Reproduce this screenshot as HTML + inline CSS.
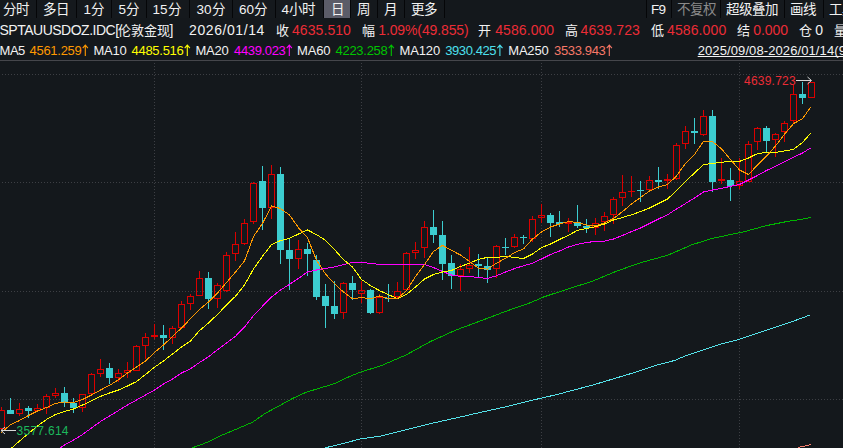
<!DOCTYPE html>
<html lang="zh-CN"><head><meta charset="utf-8"><title>SPTAUUSDOZ.IDC</title>
<style>
html,body{margin:0;padding:0;background:#14181c;}
body{width:843px;height:448px;position:relative;overflow:hidden;font-family:"Liberation Sans",sans-serif;}
#w{position:absolute;left:0;top:0;width:843px;height:448px;overflow:hidden;background:#14181c;}
.x{position:absolute;white-space:nowrap;line-height:1;}
.k,.t{-webkit-text-stroke:0;}
.t{top:2.5px;font-size:13.5px;}
.a{top:23px;font-size:14px;}
.a.k{top:23.5px;font-size:13px;}
.b{top:43.7px;font-size:13px;}
.h{top:75px;font-size:12px;}
.l{top:424.6px;font-size:12px;}
.ar{position:absolute;color:transparent;font-style:normal;letter-spacing:0;}
.u{text-decoration:underline;text-underline-offset:1px;text-decoration-skip-ink:none;text-decoration-thickness:1px;}
.tb{position:absolute;top:0;height:18px;background:#15191d;}
.hl{position:absolute;left:324px;top:0;width:26px;height:18px;background:#5b5c68;}
.dv{position:absolute;top:0;width:1px;height:18px;background:#050608;}
#sep{position:absolute;left:0;top:60px;width:843px;height:1px;background:#45464b;}
svg{position:absolute;left:0;top:0;}
</style></head><body><div id="w">
<div class="tb" style="left:0;width:445px"></div><div class="tb" style="left:646px;width:197px"></div><div class="hl"></div><i class="dv" style="left:36px"></i><i class="dv" style="left:76px"></i><i class="dv" style="left:111px"></i><i class="dv" style="left:146px"></i><i class="dv" style="left:189px"></i><i class="dv" style="left:232px"></i><i class="dv" style="left:275px"></i><i class="dv" style="left:323px"></i><i class="dv" style="left:350px"></i><i class="dv" style="left:377px"></i><i class="dv" style="left:404px"></i><i class="dv" style="left:444px"></i><i class="dv" style="left:646px"></i><i class="dv" style="left:671px"></i><i class="dv" style="left:720px"></i><i class="dv" style="left:784px"></i><i class="dv" style="left:823px"></i>
<div id="sep"></div>
<svg width="843" height="448" viewBox="0 0 843 448" shape-rendering="crispEdges">
<path d="M2 74.5H843" stroke="#3d3f44" stroke-width="1" stroke-dasharray="1 2" fill="none"/>
<path d="M2 182.5H843" stroke="#3d3f44" stroke-width="1" stroke-dasharray="1 2" fill="none"/>
<path d="M2 291.5H843" stroke="#3d3f44" stroke-width="1" stroke-dasharray="1 2" fill="none"/>
<path d="M2 399.5H843" stroke="#3d3f44" stroke-width="1" stroke-dasharray="1 2" fill="none"/>
<path d="M154.5 63V448" stroke="#3d3f44" stroke-width="1" stroke-dasharray="1 2" fill="none"/>
<path d="M361.5 63V448" stroke="#3d3f44" stroke-width="1" stroke-dasharray="1 2" fill="none"/>
<path d="M541.5 63V448" stroke="#3d3f44" stroke-width="1" stroke-dasharray="1 2" fill="none"/>
<path d="M739.5 63V448" stroke="#3d3f44" stroke-width="1" stroke-dasharray="1 2" fill="none"/>
<rect x="1" y="407" width="1" height="3" fill="#dc0000"/>
<rect x="1" y="429" width="1" height="1" fill="#dc0000"/>
<rect x="-1.5" y="410.5" width="6" height="18" fill="none" stroke="#dc0000" stroke-width="1"/>
<rect x="10" y="398" width="1" height="16" fill="#3ccdd0"/>
<rect x="7" y="410" width="7" height="4" fill="#3ccdd0"/>
<rect x="19" y="403" width="1" height="6" fill="#dc0000"/>
<rect x="19" y="414" width="1" height="2" fill="#dc0000"/>
<rect x="16.5" y="409.5" width="6" height="4" fill="none" stroke="#dc0000" stroke-width="1"/>
<rect x="28" y="406" width="1" height="12" fill="#3ccdd0"/>
<rect x="25" y="408" width="7" height="3" fill="#3ccdd0"/>
<rect x="37" y="404" width="1" height="4" fill="#dc0000"/>
<rect x="34.5" y="408.5" width="6" height="2" fill="none" stroke="#dc0000" stroke-width="1"/>
<rect x="46" y="394" width="1" height="2" fill="#dc0000"/>
<rect x="46" y="408" width="1" height="6" fill="#dc0000"/>
<rect x="43.5" y="396.5" width="6" height="11" fill="none" stroke="#dc0000" stroke-width="1"/>
<rect x="55" y="388" width="1" height="5" fill="#dc0000"/>
<rect x="55" y="396" width="1" height="2" fill="#dc0000"/>
<rect x="52.5" y="393.5" width="6" height="2" fill="none" stroke="#dc0000" stroke-width="1"/>
<rect x="64" y="387" width="1" height="20" fill="#3ccdd0"/>
<rect x="61" y="393" width="7" height="9" fill="#3ccdd0"/>
<rect x="73" y="398" width="1" height="15" fill="#3ccdd0"/>
<rect x="70" y="403" width="7" height="5" fill="#3ccdd0"/>
<rect x="82" y="408" width="1" height="4" fill="#dc0000"/>
<rect x="79.5" y="394.5" width="6" height="13" fill="none" stroke="#dc0000" stroke-width="1"/>
<rect x="91" y="373" width="1" height="1" fill="#dc0000"/>
<rect x="88.5" y="374.5" width="6" height="19" fill="none" stroke="#dc0000" stroke-width="1"/>
<rect x="100" y="359" width="1" height="10" fill="#dc0000"/>
<rect x="100" y="374" width="1" height="3" fill="#dc0000"/>
<rect x="97.5" y="369.5" width="6" height="4" fill="none" stroke="#dc0000" stroke-width="1"/>
<rect x="109" y="363" width="1" height="21" fill="#3ccdd0"/>
<rect x="106" y="368" width="7" height="10" fill="#3ccdd0"/>
<rect x="118" y="369" width="1" height="4" fill="#dc0000"/>
<rect x="118" y="378" width="1" height="4" fill="#dc0000"/>
<rect x="115.5" y="373.5" width="6" height="4" fill="none" stroke="#dc0000" stroke-width="1"/>
<rect x="127" y="362" width="1" height="8" fill="#dc0000"/>
<rect x="127" y="373" width="1" height="5" fill="#dc0000"/>
<rect x="124.5" y="370.5" width="6" height="2" fill="none" stroke="#dc0000" stroke-width="1"/>
<rect x="136" y="345" width="1" height="1" fill="#dc0000"/>
<rect x="133.5" y="346.5" width="6" height="24" fill="none" stroke="#dc0000" stroke-width="1"/>
<rect x="145" y="333" width="1" height="4" fill="#dc0000"/>
<rect x="145" y="346" width="1" height="13" fill="#dc0000"/>
<rect x="142.5" y="337.5" width="6" height="8" fill="none" stroke="#dc0000" stroke-width="1"/>
<rect x="154" y="324" width="1" height="15" fill="#dc0000"/>
<rect x="151" y="335" width="7" height="2" fill="#dc0000"/>
<rect x="163" y="325" width="1" height="25" fill="#3ccdd0"/>
<rect x="160" y="335" width="7" height="3" fill="#3ccdd0"/>
<rect x="172" y="326" width="1" height="2" fill="#dc0000"/>
<rect x="172" y="338" width="1" height="6" fill="#dc0000"/>
<rect x="169.5" y="328.5" width="6" height="9" fill="none" stroke="#dc0000" stroke-width="1"/>
<rect x="181" y="301" width="1" height="3" fill="#dc0000"/>
<rect x="178.5" y="304.5" width="6" height="23" fill="none" stroke="#dc0000" stroke-width="1"/>
<rect x="190" y="294" width="1" height="2" fill="#dc0000"/>
<rect x="190" y="304" width="1" height="6" fill="#dc0000"/>
<rect x="187.5" y="296.5" width="6" height="7" fill="none" stroke="#dc0000" stroke-width="1"/>
<rect x="199" y="271" width="1" height="7" fill="#dc0000"/>
<rect x="196.5" y="278.5" width="6" height="17" fill="none" stroke="#dc0000" stroke-width="1"/>
<rect x="208" y="272" width="1" height="37" fill="#3ccdd0"/>
<rect x="205" y="278" width="7" height="21" fill="#3ccdd0"/>
<rect x="217" y="283" width="1" height="2" fill="#dc0000"/>
<rect x="217" y="299" width="1" height="9" fill="#dc0000"/>
<rect x="214.5" y="285.5" width="6" height="13" fill="none" stroke="#dc0000" stroke-width="1"/>
<rect x="226" y="252" width="1" height="3" fill="#dc0000"/>
<rect x="226" y="291" width="1" height="1" fill="#dc0000"/>
<rect x="223.5" y="255.5" width="6" height="35" fill="none" stroke="#dc0000" stroke-width="1"/>
<rect x="235" y="232" width="1" height="12" fill="#dc0000"/>
<rect x="235" y="254" width="1" height="7" fill="#dc0000"/>
<rect x="232.5" y="244.5" width="6" height="9" fill="none" stroke="#dc0000" stroke-width="1"/>
<rect x="244" y="219" width="1" height="4" fill="#dc0000"/>
<rect x="244" y="244" width="1" height="1" fill="#dc0000"/>
<rect x="241.5" y="223.5" width="6" height="20" fill="none" stroke="#dc0000" stroke-width="1"/>
<rect x="253" y="182" width="1" height="1" fill="#dc0000"/>
<rect x="253" y="222" width="1" height="2" fill="#dc0000"/>
<rect x="250.5" y="183.5" width="6" height="38" fill="none" stroke="#dc0000" stroke-width="1"/>
<rect x="262" y="166" width="1" height="64" fill="#3ccdd0"/>
<rect x="259" y="181" width="7" height="27" fill="#3ccdd0"/>
<rect x="271" y="165" width="1" height="9" fill="#dc0000"/>
<rect x="271" y="208" width="1" height="11" fill="#dc0000"/>
<rect x="268.5" y="174.5" width="6" height="33" fill="none" stroke="#dc0000" stroke-width="1"/>
<rect x="280" y="167" width="1" height="97" fill="#3ccdd0"/>
<rect x="277" y="174" width="7" height="76" fill="#3ccdd0"/>
<rect x="289" y="239" width="1" height="51" fill="#3ccdd0"/>
<rect x="286" y="250" width="7" height="9" fill="#3ccdd0"/>
<rect x="298" y="240" width="1" height="9" fill="#dc0000"/>
<rect x="298" y="259" width="1" height="10" fill="#dc0000"/>
<rect x="295.5" y="249.5" width="6" height="9" fill="none" stroke="#dc0000" stroke-width="1"/>
<rect x="307" y="243" width="1" height="33" fill="#3ccdd0"/>
<rect x="304" y="249" width="7" height="5" fill="#3ccdd0"/>
<rect x="316" y="255" width="1" height="45" fill="#3ccdd0"/>
<rect x="313" y="260" width="7" height="37" fill="#3ccdd0"/>
<rect x="325" y="284" width="1" height="44" fill="#3ccdd0"/>
<rect x="322" y="296" width="7" height="10" fill="#3ccdd0"/>
<rect x="334" y="281" width="1" height="38" fill="#3ccdd0"/>
<rect x="331" y="306" width="7" height="8" fill="#3ccdd0"/>
<rect x="343" y="282" width="1" height="1" fill="#dc0000"/>
<rect x="343" y="313" width="1" height="6" fill="#dc0000"/>
<rect x="340.5" y="283.5" width="6" height="29" fill="none" stroke="#dc0000" stroke-width="1"/>
<rect x="352" y="276" width="1" height="24" fill="#3ccdd0"/>
<rect x="349" y="283" width="7" height="7" fill="#3ccdd0"/>
<rect x="361" y="281" width="1" height="9" fill="#dc0000"/>
<rect x="361" y="294" width="1" height="9" fill="#dc0000"/>
<rect x="358.5" y="290.5" width="6" height="3" fill="none" stroke="#dc0000" stroke-width="1"/>
<rect x="370" y="289" width="1" height="25" fill="#3ccdd0"/>
<rect x="367" y="290" width="7" height="23" fill="#3ccdd0"/>
<rect x="379" y="294" width="1" height="3" fill="#dc0000"/>
<rect x="379" y="313" width="1" height="1" fill="#dc0000"/>
<rect x="376.5" y="297.5" width="6" height="15" fill="none" stroke="#dc0000" stroke-width="1"/>
<rect x="388" y="284" width="1" height="18" fill="#3ccdd0"/>
<rect x="385" y="298" width="7" height="1" fill="#3ccdd0"/>
<rect x="397" y="282" width="1" height="9" fill="#dc0000"/>
<rect x="397" y="297" width="1" height="1" fill="#dc0000"/>
<rect x="394.5" y="291.5" width="6" height="5" fill="none" stroke="#dc0000" stroke-width="1"/>
<rect x="406" y="252" width="1" height="1" fill="#dc0000"/>
<rect x="403.5" y="253.5" width="6" height="36" fill="none" stroke="#dc0000" stroke-width="1"/>
<rect x="415" y="242" width="1" height="8" fill="#dc0000"/>
<rect x="415" y="253" width="1" height="6" fill="#dc0000"/>
<rect x="412.5" y="250.5" width="6" height="2" fill="none" stroke="#dc0000" stroke-width="1"/>
<rect x="424" y="221" width="1" height="6" fill="#dc0000"/>
<rect x="424" y="248" width="1" height="10" fill="#dc0000"/>
<rect x="421.5" y="227.5" width="6" height="20" fill="none" stroke="#dc0000" stroke-width="1"/>
<rect x="433" y="210" width="1" height="33" fill="#3ccdd0"/>
<rect x="430" y="227" width="7" height="8" fill="#3ccdd0"/>
<rect x="442" y="221" width="1" height="59" fill="#3ccdd0"/>
<rect x="439" y="235" width="7" height="29" fill="#3ccdd0"/>
<rect x="451" y="255" width="1" height="34" fill="#3ccdd0"/>
<rect x="448" y="263" width="7" height="13" fill="#3ccdd0"/>
<rect x="460" y="264" width="1" height="5" fill="#dc0000"/>
<rect x="460" y="276" width="1" height="15" fill="#dc0000"/>
<rect x="457.5" y="269.5" width="6" height="6" fill="none" stroke="#dc0000" stroke-width="1"/>
<rect x="469" y="247" width="1" height="18" fill="#dc0000"/>
<rect x="469" y="269" width="1" height="4" fill="#dc0000"/>
<rect x="466.5" y="265.5" width="6" height="3" fill="none" stroke="#dc0000" stroke-width="1"/>
<rect x="478" y="254" width="1" height="23" fill="#3ccdd0"/>
<rect x="475" y="264" width="7" height="2" fill="#3ccdd0"/>
<rect x="487" y="258" width="1" height="25" fill="#3ccdd0"/>
<rect x="484" y="266" width="7" height="4" fill="#3ccdd0"/>
<rect x="496" y="245" width="1" height="1" fill="#dc0000"/>
<rect x="496" y="269" width="1" height="9" fill="#dc0000"/>
<rect x="493.5" y="246.5" width="6" height="22" fill="none" stroke="#dc0000" stroke-width="1"/>
<rect x="505" y="238" width="1" height="17" fill="#3ccdd0"/>
<rect x="502" y="247" width="7" height="1" fill="#3ccdd0"/>
<rect x="514" y="234" width="1" height="3" fill="#dc0000"/>
<rect x="514" y="247" width="1" height="1" fill="#dc0000"/>
<rect x="511.5" y="237.5" width="6" height="9" fill="none" stroke="#dc0000" stroke-width="1"/>
<rect x="523" y="235" width="1" height="9" fill="#3ccdd0"/>
<rect x="520" y="237" width="7" height="1" fill="#3ccdd0"/>
<rect x="532" y="216" width="1" height="3" fill="#dc0000"/>
<rect x="532" y="239" width="1" height="3" fill="#dc0000"/>
<rect x="529.5" y="219.5" width="6" height="19" fill="none" stroke="#dc0000" stroke-width="1"/>
<rect x="541" y="204" width="1" height="11" fill="#dc0000"/>
<rect x="541" y="218" width="1" height="5" fill="#dc0000"/>
<rect x="538.5" y="215.5" width="6" height="2" fill="none" stroke="#dc0000" stroke-width="1"/>
<rect x="550" y="213" width="1" height="24" fill="#3ccdd0"/>
<rect x="547" y="215" width="7" height="8" fill="#3ccdd0"/>
<rect x="559" y="211" width="1" height="16" fill="#3ccdd0"/>
<rect x="556" y="222" width="7" height="2" fill="#3ccdd0"/>
<rect x="568" y="218" width="1" height="14" fill="#dc0000"/>
<rect x="565" y="222" width="7" height="2" fill="#dc0000"/>
<rect x="577" y="205" width="1" height="23" fill="#3ccdd0"/>
<rect x="574" y="222" width="7" height="4" fill="#3ccdd0"/>
<rect x="586" y="219" width="1" height="14" fill="#3ccdd0"/>
<rect x="583" y="226" width="7" height="2" fill="#3ccdd0"/>
<rect x="595" y="218" width="1" height="5" fill="#dc0000"/>
<rect x="595" y="228" width="1" height="7" fill="#dc0000"/>
<rect x="592.5" y="223.5" width="6" height="4" fill="none" stroke="#dc0000" stroke-width="1"/>
<rect x="604" y="212" width="1" height="4" fill="#dc0000"/>
<rect x="604" y="222" width="1" height="9" fill="#dc0000"/>
<rect x="601.5" y="216.5" width="6" height="5" fill="none" stroke="#dc0000" stroke-width="1"/>
<rect x="613" y="197" width="1" height="2" fill="#dc0000"/>
<rect x="613" y="215" width="1" height="9" fill="#dc0000"/>
<rect x="610.5" y="199.5" width="6" height="15" fill="none" stroke="#dc0000" stroke-width="1"/>
<rect x="622" y="175" width="1" height="17" fill="#dc0000"/>
<rect x="622" y="198" width="1" height="8" fill="#dc0000"/>
<rect x="619.5" y="192.5" width="6" height="5" fill="none" stroke="#dc0000" stroke-width="1"/>
<rect x="631" y="176" width="1" height="21" fill="#dc0000"/>
<rect x="628" y="191" width="7" height="1" fill="#dc0000"/>
<rect x="640" y="181" width="1" height="21" fill="#3ccdd0"/>
<rect x="637" y="190" width="7" height="1" fill="#3ccdd0"/>
<rect x="649" y="176" width="1" height="4" fill="#dc0000"/>
<rect x="649" y="190" width="1" height="1" fill="#dc0000"/>
<rect x="646.5" y="180.5" width="6" height="9" fill="none" stroke="#dc0000" stroke-width="1"/>
<rect x="658" y="167" width="1" height="22" fill="#3ccdd0"/>
<rect x="655" y="180" width="7" height="2" fill="#3ccdd0"/>
<rect x="667" y="174" width="1" height="15" fill="#dc0000"/>
<rect x="664" y="179" width="7" height="2" fill="#dc0000"/>
<rect x="676" y="143" width="1" height="2" fill="#dc0000"/>
<rect x="676" y="179" width="1" height="1" fill="#dc0000"/>
<rect x="673.5" y="145.5" width="6" height="33" fill="none" stroke="#dc0000" stroke-width="1"/>
<rect x="685" y="126" width="1" height="5" fill="#dc0000"/>
<rect x="685" y="144" width="1" height="5" fill="#dc0000"/>
<rect x="682.5" y="131.5" width="6" height="12" fill="none" stroke="#dc0000" stroke-width="1"/>
<rect x="694" y="118" width="1" height="26" fill="#3ccdd0"/>
<rect x="691" y="131" width="7" height="2" fill="#3ccdd0"/>
<rect x="703" y="110" width="1" height="6" fill="#dc0000"/>
<rect x="703" y="135" width="1" height="1" fill="#dc0000"/>
<rect x="700.5" y="116.5" width="6" height="18" fill="none" stroke="#dc0000" stroke-width="1"/>
<rect x="712" y="110" width="1" height="82" fill="#3ccdd0"/>
<rect x="709" y="116" width="7" height="66" fill="#3ccdd0"/>
<rect x="721" y="158" width="1" height="26" fill="#dc0000"/>
<rect x="718" y="179" width="7" height="2" fill="#dc0000"/>
<rect x="730" y="168" width="1" height="33" fill="#3ccdd0"/>
<rect x="727" y="180" width="7" height="6" fill="#3ccdd0"/>
<rect x="739" y="158" width="1" height="23" fill="#dc0000"/>
<rect x="739" y="186" width="1" height="3" fill="#dc0000"/>
<rect x="736.5" y="181.5" width="6" height="4" fill="none" stroke="#dc0000" stroke-width="1"/>
<rect x="748" y="141" width="1" height="3" fill="#dc0000"/>
<rect x="745.5" y="144.5" width="6" height="37" fill="none" stroke="#dc0000" stroke-width="1"/>
<rect x="757" y="127" width="1" height="1" fill="#dc0000"/>
<rect x="757" y="142" width="1" height="8" fill="#dc0000"/>
<rect x="754.5" y="128.5" width="6" height="13" fill="none" stroke="#dc0000" stroke-width="1"/>
<rect x="766" y="126" width="1" height="26" fill="#3ccdd0"/>
<rect x="763" y="128" width="7" height="13" fill="#3ccdd0"/>
<rect x="775" y="133" width="1" height="1" fill="#dc0000"/>
<rect x="775" y="140" width="1" height="17" fill="#dc0000"/>
<rect x="772.5" y="134.5" width="6" height="5" fill="none" stroke="#dc0000" stroke-width="1"/>
<rect x="784" y="121" width="1" height="2" fill="#dc0000"/>
<rect x="784" y="132" width="1" height="10" fill="#dc0000"/>
<rect x="781.5" y="123.5" width="6" height="8" fill="none" stroke="#dc0000" stroke-width="1"/>
<rect x="793" y="85" width="1" height="9" fill="#dc0000"/>
<rect x="793" y="121" width="1" height="3" fill="#dc0000"/>
<rect x="790.5" y="94.5" width="6" height="26" fill="none" stroke="#dc0000" stroke-width="1"/>
<rect x="802" y="82" width="1" height="22" fill="#3ccdd0"/>
<rect x="799" y="94" width="7" height="4" fill="#3ccdd0"/>
<rect x="808.5" y="82.5" width="6" height="15" fill="none" stroke="#dc0000" stroke-width="1"/>
<polyline points="798,447.5 810.6,444.7" fill="none" stroke="#f57c6c" stroke-width="1"/>
<polyline points="322,449 327.5,447.25 345,443 360,439 381,436 406,429.75 431,423.5 456,418 481,412.25 506,406.75 531,400.5 556,394.75 592,385.25 632,373.25 657,365 674.5,360.5 684.5,356.25 707,348.75 719.5,344.5 739.5,339.25 757,333.25 782,325 794.5,320.75 810.6,314.8" fill="none" stroke="#55e2ea" stroke-width="1"/>
<polyline points="190,449 195,446.75 207.5,442.25 220,436 235,429.75 252.5,422.25 265,413.5 277.5,406.75 292.5,398.5 306.25,392.25 320,388 335,383.5 345,378.5 360,372.25 381,365.75 406,355 431,341.25 456,330 481,320.75 506,311.25 531,302.5 543.5,297 568.5,288.75 592,281.4 617,271 642,262.25 667,255.5 692,244.75 712,238.5 732,234.25 742,232.25 767,225.5 787,221.5 803,219 810.6,217.6" fill="none" stroke="#00b400" stroke-width="1"/>
<polyline points="46.5,457 55.5,451 64.5,445 73.5,440 82.5,434.5 91.5,428 100.5,421.5 109.5,416 118.5,410.5 127.5,405 136.5,400 145.5,395 154.5,390 163.5,384 172.5,379 181.5,373 190.5,368.75 199.5,362.5 208.5,356.75 217.5,349.75 226.5,343 235.5,336.25 244.5,327 253.5,315.6 262.5,306.25 271.5,297 280.5,290 289.5,284.4 298.5,278.4 307.5,272 316.5,270 325.5,268.4 334.5,267 343.5,264.6 352.5,262.4 361.5,262.4 370.5,263.4 379.5,264.4 388.5,264.5 397.5,264.5 406.5,264.5 415.5,264.5 424.5,264.5 433.5,267.6 442.5,271.4 451.5,275 460.5,276.4 469.5,276.4 478.5,277.6 487.5,278.4 496.5,275.75 505.5,272 514.5,268.6 523.5,265.75 532.5,263.25 541.5,259 550.5,254.5 559.5,251 568.5,247 577.5,244.3 586.5,242.5 595.5,241.4 604.5,241.25 613.5,239 622.5,235.4 631.5,231.6 640.5,228 649.5,223.5 658.5,219 667.5,214.75 676.5,209 685.5,203.5 694.5,198 703.5,192 712.5,190 721.5,188.25 730.5,186.4 739.5,184.5 748.5,180 757.5,175.5 766.5,170.5 775.5,166.3 784.5,161.75 793.5,157.4 802.5,153 810.6,147.96" fill="none" stroke="#ff00ff" stroke-width="1"/>
<polyline points="1.5,457 10.5,449 19.5,441 28.5,433.5 37.5,426 46.5,419.5 55.5,414.5 64.5,411.4 73.5,409 82.5,405 91.5,400.8 100.5,396.4 109.5,393 118.5,390 127.5,386 136.5,381.6 145.5,374.5 154.5,367.25 163.5,361 172.5,354 181.5,347 190.5,341 199.5,330.6 208.5,323 217.5,314.4 226.5,305 235.5,296.25 244.5,285 253.5,269 262.5,256.25 271.5,244.6 280.5,240.5 289.5,238.4 298.5,234 307.5,230 316.5,234.6 325.5,240.25 334.5,249.6 343.5,259.6 352.5,267 361.5,279.5 370.5,285.6 379.5,290.6 388.5,294.75 397.5,298.5 406.5,294.5 415.5,287 424.5,279 433.5,274.5 442.5,272 451.5,270.5 460.5,266.4 469.5,263.25 478.5,259.25 487.5,257.4 496.5,257.4 505.5,256.4 514.5,257.4 523.5,258.5 532.5,254 541.5,247.6 550.5,244 559.5,239.5 568.5,235.2 577.5,230.4 586.5,228.6 595.5,226.6 604.5,224 613.5,220 622.5,217.5 631.5,214.75 640.5,211.6 649.5,208 658.5,203.5 667.5,199 676.5,190.75 685.5,181.5 694.5,173 703.5,164.5 712.5,163.5 721.5,162.25 730.5,161.4 739.5,161.4 748.5,158 757.5,153.6 766.5,152.4 775.5,152.4 784.5,151 793.5,149.25 802.5,142.4 810.6,133.4" fill="none" stroke="#ffff00" stroke-width="1"/>
<polyline points="1.5,432.5 10.5,424.7 19.5,420.5 28.5,415.5 37.5,411 46.5,407.6 55.5,403.5 64.5,402 73.5,402.5 82.5,399.5 91.5,395 100.5,390 109.5,385.4 118.5,379.75 127.5,373 136.5,367 145.5,361 154.5,352.5 163.5,345 172.5,336.5 181.5,328 190.5,318.75 199.5,309.4 208.5,302 217.5,293 226.5,282.5 235.5,272 244.5,261 253.5,236.5 262.5,223.5 271.5,206 280.5,208.6 289.5,215 298.5,227.75 307.5,237.75 316.5,260.25 325.5,274 334.5,283.75 343.5,292 352.5,298.75 361.5,297.5 370.5,298.75 379.5,296 388.5,298.4 397.5,298.25 406.5,290.75 415.5,276.4 424.5,264.5 433.5,251.5 442.5,245.4 451.5,250.4 460.5,255 469.5,261.4 478.5,268.25 487.5,269.2 496.5,263.25 505.5,258.25 514.5,252.6 523.5,248.9 532.5,239 541.5,232 550.5,227 559.5,224 568.5,221.6 577.5,222.4 586.5,225 595.5,225.75 604.5,222.9 613.5,218.5 622.5,211.6 631.5,204 640.5,197.5 649.5,191 658.5,187 667.5,184.5 676.5,176 685.5,163.25 694.5,154.5 703.5,141.25 712.5,141.5 721.5,148.9 730.5,159.5 739.5,170 748.5,174.5 757.5,165 766.5,156.2 775.5,146 784.5,134.25 793.5,123.6 802.5,118.8 810.6,107.1" fill="none" stroke="#ff9900" stroke-width="1"/>
<path d="M796 80.5H811M807.5 77L811.5 80.5L807.5 84" stroke="#d8d8d8" stroke-width="1" fill="none" shape-rendering="auto"/>
<path d="M1 430.5H16M5 427L1 430.5L5 434" stroke="#d8d8d8" stroke-width="1" fill="none" shape-rendering="auto"/>
<path d="M85.3 45.2V56M82.7 48.2L85.3 45.2L87.9 48.2" stroke="#ff9900" stroke-width="1.1" fill="none" shape-rendering="auto"/>
<path d="M187.3 45.2V56M184.7 48.2L187.3 45.2L189.9 48.2" stroke="#ffff00" stroke-width="1.1" fill="none" shape-rendering="auto"/>
<path d="M289.3 45.2V56M286.7 48.2L289.3 45.2L291.9 48.2" stroke="#ff00ff" stroke-width="1.1" fill="none" shape-rendering="auto"/>
<path d="M391.3 45.2V56M388.7 48.2L391.3 45.2L393.9 48.2" stroke="#00c400" stroke-width="1.1" fill="none" shape-rendering="auto"/>
<path d="M499.9 45.2V56M497.3 48.2L499.9 45.2L502.5 48.2" stroke="#4de0ee" stroke-width="1.1" fill="none" shape-rendering="auto"/>
<path d="M609.3 45.2V56M606.7 48.2L609.3 45.2L611.9 48.2" stroke="#f87868" stroke-width="1.1" fill="none" shape-rendering="auto"/>
</svg>
<span id="s0" class="x t" style="left:2.5px;color:#f2f2f2;">分时</span>
<span id="s1" class="x t" style="left:42.5px;color:#f2f2f2;">多日</span>
<span id="s2" class="x t" style="left:83.5px;color:#f2f2f2;">1分</span>
<span id="s3" class="x t" style="left:118.5px;color:#f2f2f2;">5分</span>
<span id="s4" class="x t" style="left:152.5px;color:#f2f2f2;">15分</span>
<span id="s5" class="x t" style="left:196.5px;color:#f2f2f2;">30分</span>
<span id="s6" class="x t" style="left:239px;color:#f2f2f2;">60分</span>
<span id="s7" class="x t" style="left:281.5px;color:#f2f2f2;">4小时</span>
<span id="s8" class="x t" style="left:331.2px;color:#f2f2f2;">日</span>
<span id="s9" class="x t" style="left:356.5px;color:#f2f2f2;">周</span>
<span id="s10" class="x t" style="left:384px;color:#f2f2f2;">月</span>
<span id="s11" class="x t" style="left:410.5px;color:#f2f2f2;">更多</span>
<span id="s12" class="x t" style="left:651px;color:#f2f2f2;letter-spacing:-0.63px;">F9</span>
<span id="s13" class="x t" style="left:726px;color:#f2f2f2;">超级叠加</span>
<span id="s14" class="x t" style="left:790.25px;color:#f2f2f2;">画线</span>
<span id="s15" class="x t" style="left:828.5px;color:#f2f2f2;">工具</span>
<span id="s16" class="x t" style="left:676.5px;color:#8a8a8a;">不复权</span>
<span id="s17" class="x a" style="left:-0.5px;color:#f2f2f2;letter-spacing:-0.5px;">SPTAUUSDOZ.IDC[</span>
<span id="s18" class="x a k" style="left:117.5px;color:#f2f2f2;">伦敦金现</span>
<span id="s19" class="x a" style="left:169.5px;color:#f2f2f2;">]</span>
<span id="s20" class="x a" style="left:189px;color:#f2f2f2;letter-spacing:0.59px;">2026/01/14</span>
<span id="s21" class="x a k" style="left:275.5px;color:#f2f2f2;">收</span>
<span id="s22" class="x a" style="left:292px;color:#ec2c36;letter-spacing:0.07px;">4635.510</span>
<span id="s23" class="x a k" style="left:362px;color:#f2f2f2;">幅</span>
<span id="s24" class="x a" style="left:378.25px;color:#ec2c36;letter-spacing:-0.12px;">1.09%(49.855)</span>
<span id="s25" class="x a k" style="left:478.25px;color:#f2f2f2;">开</span>
<span id="s26" class="x a" style="left:495.25px;color:#ec2c36;letter-spacing:0.07px;">4586.000</span>
<span id="s27" class="x a k" style="left:564.5px;color:#f2f2f2;">高</span>
<span id="s28" class="x a" style="left:580.5px;color:#ec2c36;letter-spacing:0.14px;">4639.723</span>
<span id="s29" class="x a k" style="left:650.5px;color:#f2f2f2;">低</span>
<span id="s30" class="x a" style="left:667px;color:#ec2c36;letter-spacing:0.11px;">4586.000</span>
<span id="s31" class="x a k" style="left:736.5px;color:#f2f2f2;">结</span>
<span id="s32" class="x a" style="left:753.25px;color:#ec2c36;letter-spacing:-0.06px;">0.000</span>
<span id="s33" class="x a k" style="left:799px;color:#f2f2f2;">仓</span>
<span id="s34" class="x a" style="left:815.25px;color:#f2f2f2;">0</span>
<span id="s35" class="x a k" style="left:834px;color:#f2f2f2;">量</span>
<span id="s36" class="x b" style="left:-0.5px;color:#f2f2f2;letter-spacing:-0.45px;">MA5</span>
<span id="s37" class="x b" style="left:29.5px;color:#ff9900;letter-spacing:-0.28px;">4561.259<i class="ar">↑</i></span>
<span id="s38" class="x b" style="left:93.5px;color:#f2f2f2;letter-spacing:-0.24px;">MA10</span>
<span id="s39" class="x b" style="left:131.5px;color:#ffff00;letter-spacing:-0.28px;">4485.516<i class="ar">↑</i></span>
<span id="s40" class="x b" style="left:195.5px;color:#f2f2f2;letter-spacing:-0.24px;">MA20</span>
<span id="s41" class="x b" style="left:234px;color:#ff00ff;letter-spacing:-0.34px;">4439.023<i class="ar">↑</i></span>
<span id="s42" class="x b" style="left:297px;color:#f2f2f2;letter-spacing:-0.12px;">MA60</span>
<span id="s43" class="x b" style="left:335.5px;color:#00c400;letter-spacing:-0.28px;">4223.258<i class="ar">↑</i></span>
<span id="s44" class="x b" style="left:399.5px;color:#f2f2f2;letter-spacing:-0.14px;">MA120</span>
<span id="s45" class="x b" style="left:445.25px;color:#4de0ee;letter-spacing:-0.42px;">3930.425<i class="ar">↑</i></span>
<span id="s46" class="x b" style="left:508.25px;color:#f2f2f2;letter-spacing:-0.19px;">MA250</span>
<span id="s47" class="x b" style="left:554px;color:#f87868;letter-spacing:-0.34px;">3533.943<i class="ar">↑</i></span>
<span id="s48" class="x b u" style="left:697.7px;color:#f2f2f2;letter-spacing:0.1px;">2025/09/08-2026/01/14(91日)</span>
<span id="s49" class="x h" style="left:744px;color:#ec2c36;letter-spacing:0.22px;">4639.723</span>
<span id="s50" class="x l" style="left:16.5px;color:#1cb85c;letter-spacing:0.28px;">3577.614</span>
</div></body></html>
